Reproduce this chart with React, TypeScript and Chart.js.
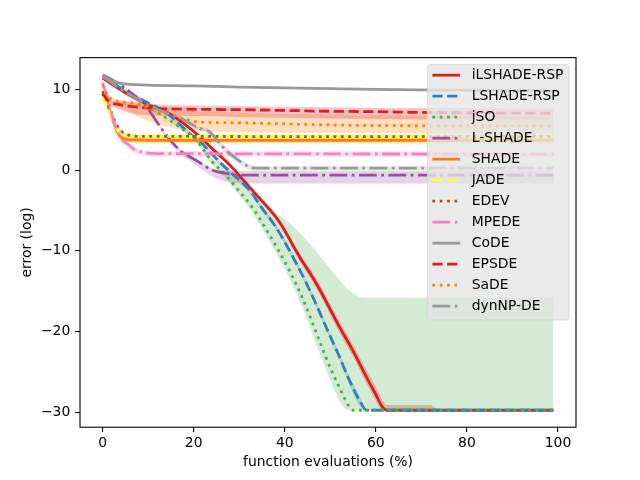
import { useEffect, useRef } from "react";
import { Chart, registerables } from "chart.js";

Chart.register(...registerables);

// ---------- data ----------
const LABELS = ["iLSHADE-RSP", "LSHADE-RSP", "jSO", "L-SHADE", "SHADE", "JADE", "EDEV", "MPEDE", "CoDE", "EPSDE", "SaDE", "dynNP-DE"];
const COLORS = ["#e41a1c", "#377eb8", "#4daf4a", "#984ea3", "#ff7f00", "#ffff33", "#a65628", "#f781bf", "#999999", "#e41a1c", "#ff7f00", "#999999"];
const STYLES = ["solid", "dashed", "dotted", "dashdot", "solid", "dashed", "dotted", "dashdot", "solid", "dashed", "dotted", "dashdot"];

const X_TICKS = [0, 20, 40, 60, 80, 100];
const Y_TICKS = [-30, -20, -10, 0, 10];

// iLSHADE-RSP
const X1 = [0, 5, 10, 15, 20, 24, 28, 31, 34.5, 38.8, 43.2, 47, 52, 55, 58, 60, 61.5, 62.5, 72, 74, 99];
const Y1 = [11.4, 9.6, 8.1, 6.9, 4.8, 2.7, 0.6, -1.3, -3.5, -6.4, -10.7, -14.1, -19.4, -22.4, -25.7, -27.8, -29.4, -29.75, -29.75, -29.75, -29.75];
const HI1 = [11.5, 9.8, 8.3, 7.1, 5.0, 2.9, 0.8, -1.0, -3.2, -6.0, -10.2, -13.5, -18.7, -21.6, -24.8, -26.8, -28.5, -29.1, -29.1, -29.75, -29.75];
const LO1 = [11.3, 9.4, 7.9, 6.7, 4.6, 2.5, 0.4, -1.6, -3.8, -6.8, -11.2, -14.7, -20.1, -23.1, -26.5, -28.6, -29.75, -29.75, -29.75, -29.75, -29.75];

// LSHADE-RSP
const X2 = [0, 5, 9.4, 14, 19, 22, 25.7, 28, 32.3, 35, 38, 40, 45, 50, 52, 54, 56.4, 58, 99];
const Y2 = [11.6, 9.8, 8.5, 7.1, 4.6, 3.2, 1.0, -0.2, -2.5, -4.7, -7.0, -8.9, -14.3, -20.6, -23.1, -25.8, -28.5, -29.75, -29.75];
const HI2 = [11.7, 10.0, 8.7, 7.3, 4.9, 3.5, 1.3, 0.1, -2.2, -4.4, -6.7, -8.6, -14.0, -20.2, -22.7, -25.3, -28.0, -29.75, -29.75];
const LO2 = [11.5, 9.6, 8.3, 6.9, 4.3, 2.9, 0.7, -0.5, -2.8, -5.0, -7.3, -9.2, -14.6, -21.0, -23.5, -26.3, -29.2, -29.75, -29.75];

// jSO
const X3 = [0, 2, 6.6, 12.5, 17, 20.6, 24, 27, 30, 33, 36, 41, 44, 47.6, 50, 52, 54, 55, 56.4, 58, 99];
const Y3 = [11.6, 11.1, 9.1, 7.0, 5.3, 3.7, 1.1, -0.6, -2.6, -4.7, -7.4, -12.4, -16.0, -21.1, -24.5, -26.9, -29.2, -29.75, -29.75, -29.75, -29.75];
const HI3 = [11.7, 11.2, 9.2, 7.1, 5.5, 4.0, 1.6, 0.2, -1.2, -2.8, -4.4, -6.5, -8.2, -10.5, -12.2, -13.6, -14.8, -15.2, -15.7, -15.8, -15.8];
const LO3 = [11.5, 11.0, 9.0, 6.9, 5.1, 3.4, 0.7, -1.0, -3.1, -5.3, -8.2, -13.4, -17.2, -22.6, -26.0, -28.6, -29.75, -29.75, -29.75, -29.75, -29.75];

// L-SHADE
const X4 = [0, 3, 4.4, 9.6, 13.2, 16.9, 20.6, 24.2, 27.1, 30, 35, 99];
const Y4 = [11.8, 10.9, 10.4, 7.85, 4.95, 2.5, 1.2, 0.0, -0.4, -0.62, -0.62, -0.62];
const HI4 = [11.9, 11.0, 10.5, 8.0, 5.1, 2.7, 1.4, 0.2, 0.0, -0.1, -0.1, -0.1];
const LO4 = [11.7, 10.8, 10.3, 7.7, 4.8, 2.2, 0.6, -0.8, -1.4, -1.6, -1.65, -1.65];

// SHADE
const X5 = [0, 1, 2, 3, 4, 5, 7, 10, 99];
const Y5 = [9.5, 8.3, 6.6, 5.0, 4.1, 3.85, 3.75, 3.7, 3.7];
const HI5 = [9.7, 8.5, 6.9, 5.3, 4.4, 4.15, 4.05, 4.0, 4.0];
const LO5 = [9.3, 8.0, 6.3, 4.7, 3.7, 3.45, 3.35, 3.3, 3.3];

// JADE
const X6 = [0, 1, 2, 3, 4.4, 6, 10, 99];
const Y6 = [9.1, 7.9, 6.5, 5.2, 4.4, 4.25, 4.2, 4.15];
const HI6 = [9.3, 8.2, 6.8, 5.5, 4.7, 4.55, 4.5, 4.45];
const LO6 = [8.9, 7.6, 6.2, 4.9, 4.1, 3.95, 3.9, 3.85];

// EDEV
const X7 = [0, 1, 2.1, 2.9, 4.3, 5.7, 8, 99];
const Y7 = [9.8, 8.5, 7.0, 5.8, 4.75, 4.35, 4.2, 4.15];
const HI7 = [9.9, 8.7, 7.2, 6.0, 4.95, 4.55, 4.4, 4.35];
const LO7 = [9.7, 8.3, 6.8, 5.6, 4.55, 4.15, 4.0, 3.95];

// MPEDE
const X8 = [0, 1.4, 2.5, 3.9, 5.8, 7.2, 9.4, 12, 99];
const Y8 = [10.8, 8.3, 6.0, 4.1, 3.1, 2.5, 2.15, 2.05, 2.0];
const HI8 = [10.9, 8.5, 6.3, 4.4, 3.4, 2.8, 2.45, 2.35, 2.3];
const LO8 = [10.6, 8.0, 5.7, 3.8, 2.7, 2.15, 1.8, 1.7, 1.65];

// CoDE
const X9 = [0, 2, 4, 10, 20, 30, 40, 50, 60, 74, 99];
const Y9 = [11.7, 11.1, 10.75, 10.55, 10.45, 10.3, 10.2, 10.1, 10.0, 9.92, 9.85];
const HI9 = [11.8, 11.2, 10.85, 10.65, 10.55, 10.4, 10.3, 10.2, 10.1, 10.02, 9.95];
const LO9 = [11.6, 11.0, 10.65, 10.45, 10.35, 10.2, 10.1, 10.0, 9.9, 9.82, 9.75];

// EPSDE
const X10 = [0, 1.5, 4, 10, 20, 30, 40, 50, 60, 70, 99];
const Y10 = [9.5, 8.5, 8.1, 7.7, 7.55, 7.5, 7.4, 7.3, 7.25, 7.15, 7.05];
const HI10 = [9.7, 8.8, 8.5, 8.2, 8.0, 7.95, 7.85, 7.8, 7.75, 7.7, 7.6];
const LO10 = [9.3, 8.2, 7.4, 6.8, 6.7, 6.6, 6.5, 6.4, 6.35, 6.3, 6.2];

// SaDE
const X11 = [0, 1.3, 2.2, 3.5, 6.6, 9.6, 12, 15.4, 20.6, 25, 31.6, 52, 99];
const Y11 = [10.6, 9.1, 8.7, 8.5, 8.3, 7.8, 7.3, 6.8, 6.0, 5.9, 5.85, 5.58, 5.45];
const HI11 = [10.8, 9.4, 9.0, 8.8, 8.6, 8.3, 8.0, 7.7, 7.3, 7.2, 7.1, 6.9, 6.6];
const LO11 = [10.4, 8.8, 8.3, 7.9, 7.0, 6.2, 5.7, 5.2, 4.9, 4.8, 4.7, 4.6, 4.5];

// dynNP-DE
const X12 = [0, 4.4, 11.8, 16.9, 21.3, 23.5, 26.4, 29.3, 32.3, 34, 36, 99];
const Y12 = [11.6, 9.9, 7.6, 6.5, 5.2, 4.75, 2.9, 1.45, 0.41, 0.25, 0.25, 0.25];
const HI12 = [11.7, 10.1, 7.8, 6.7, 5.4, 5.0, 3.2, 1.75, 0.7, 0.5, 0.5, 0.5];
const LO12 = [11.5, 9.7, 7.4, 6.3, 4.9, 4.4, 2.5, 1.05, 0.05, -0.05, -0.05, -0.05];

const XS = [X1, X2, X3, X4, X5, X6, X7, X8, X9, X10, X11, X12];
const YS = [Y1, Y2, Y3, Y4, Y5, Y6, Y7, Y8, Y9, Y10, Y11, Y12];
const HIS = [HI1, HI2, HI3, HI4, HI5, HI6, HI7, HI8, HI9, HI10, HI11, HI12];
const LOS = [LO1, LO2, LO3, LO4, LO5, LO6, LO7, LO8, LO9, LO10, LO11, LO12];

// ---------- styling ----------
const LW = 2.78;
const DASHES: Record<string, number[]> = {
  solid: [],
  dashed: [3.7 * LW, 1.6 * LW],
  dotted: [1 * LW, 1.65 * LW],
  dashdot: [6.4 * LW, 1.6 * LW, 1 * LW, 1.6 * LW],
};
const FONT = { family: "'DejaVu Sans', sans-serif", size: 13.9, lineHeight: 1.2 };

function rgba(hex: string, a: number) {
  const n = parseInt(hex.slice(1), 16);
  return `rgba(${(n >> 16) & 255},${(n >> 8) & 255},${n & 255},${a})`;
}
const fmt = (v: number) => String(v).replace("-", "\u2212");

const framePlugin = {
  id: "mplFrame",
  afterDatasetsDraw(chart: any) {
    const { ctx, chartArea: a } = chart;
    ctx.save();
    ctx.strokeStyle = "#000";
    ctx.lineWidth = 1.1;
    ctx.strokeRect(a.left, a.top, a.right - a.left, a.bottom - a.top);
    ctx.restore();
  },
};

const legendPlugin = {
  id: "mplLegend",
  afterDraw(chart: any) {
    const ctx = chart.ctx;
    const a = chart.chartArea;
    const w = 141.7, h = 255.4;
    const right = a.right - 6.95;
    const top = a.top + 6.95;
    const left = right - w;
    const r = 2.8;
    ctx.save();
    ctx.beginPath();
    ctx.moveTo(left + r, top);
    ctx.lineTo(left + w - r, top);
    ctx.quadraticCurveTo(left + w, top, left + w, top + r);
    ctx.lineTo(left + w, top + h - r);
    ctx.quadraticCurveTo(left + w, top + h, left + w - r, top + h);
    ctx.lineTo(left + r, top + h);
    ctx.quadraticCurveTo(left, top + h, left, top + h - r);
    ctx.lineTo(left, top + r);
    ctx.quadraticCurveTo(left, top, left + r, top);
    ctx.closePath();
    ctx.fillStyle = "rgba(229,229,229,0.8)";
    ctx.fill();
    ctx.strokeStyle = "rgba(214,214,214,0.8)";
    ctx.lineWidth = 1;
    ctx.stroke();

    ctx.font = `${FONT.size}px ${FONT.family}`;
    ctx.textBaseline = "middle";
    ctx.textAlign = "left";
    LABELS.forEach((lab, i) => {
      const y = top + 10.6 + 21 * i;
      ctx.beginPath();
      ctx.setLineDash(DASHES[STYLES[i]]);
      ctx.lineDashOffset = 0;
      ctx.strokeStyle = COLORS[i];
      ctx.lineWidth = LW;
      ctx.lineCap = "butt";
      ctx.moveTo(left + 5, y);
      ctx.lineTo(left + 5 + 27.8, y);
      ctx.stroke();
      ctx.setLineDash([]);
      ctx.fillStyle = "#000";
      ctx.fillText(lab, left + 44.4, y + 0.5);
    });
    ctx.restore();
  },
};

export default function App() {
  const ref = useRef<HTMLCanvasElement | null>(null);

  useEffect(() => {
    if (!ref.current) return;
    const n = LABELS.length;
    const datasets: any[] = [];
    for (let i = 0; i < n; i++) {
      const xs = XS[i];
      const upIndex = datasets.length;
      datasets.push({
        label: LABELS[i] + " upper",
        data: xs.map((x, k) => ({ x, y: HIS[i][k] })),
        borderColor: "rgba(0,0,0,0)",
        borderWidth: 0,
        pointRadius: 0,
        fill: false,
        cubicInterpolationMode: "monotone",
        order: 100,
      });
      datasets.push({
        label: LABELS[i] + " lower",
        data: xs.map((x, k) => ({ x, y: LOS[i][k] })),
        borderColor: "rgba(0,0,0,0)",
        borderWidth: 0,
        pointRadius: 0,
        fill: upIndex,
        backgroundColor: rgba(COLORS[i], 0.25),
        cubicInterpolationMode: "monotone",
        order: 100,
      });
    }
    for (let i = 0; i < n; i++) {
      datasets.push({
        label: LABELS[i],
        data: XS[i].map((x, k) => ({ x, y: YS[i][k] })),
        borderColor: COLORS[i],
        borderWidth: LW,
        borderDash: DASHES[STYLES[i]],
        borderCapStyle: "butt",
        borderJoinStyle: "round",
        pointRadius: 0,
        fill: false,
        cubicInterpolationMode: "monotone",
        order: 50 - i,
      });
    }

    const gridStyle = { drawOnChartArea: false, drawTicks: true, tickLength: 4.86, color: "#000", lineWidth: 1.1 };

    const chart = new Chart(ref.current, {
      type: "line",
      data: { datasets },
      plugins: [framePlugin, legendPlugin],
      options: {
        animation: false,
        responsive: false,
        maintainAspectRatio: false,
        devicePixelRatio: 1,
        events: [],
        layout: { padding: { top: 57.6, right: 64, left: 0, bottom: 0 } },
        plugins: {
          legend: { display: false },
          tooltip: { enabled: false },
          filler: { propagate: false, drawTime: "beforeDatasetsDraw" },
        },
        scales: {
          x: {
            type: "linear",
            min: -4.95,
            max: 103.95,
            afterBuildTicks: (s: any) => {
              s.ticks = X_TICKS.map((v) => ({ value: v }));
            },
            afterFit: (s: any) => {
              s.height = 52.8;
            },
            ticks: { font: FONT, color: "#000", padding: 2.9, maxRotation: 0, autoSkip: false, callback: (v: any) => fmt(v) },
            grid: gridStyle,
            border: { display: false },
            title: { display: true, text: "function evaluations (%)", font: FONT, color: "#000", padding: { top: 0, bottom: 9 } },
          },
          y: {
            type: "linear",
            min: -31.85,
            max: 13.95,
            afterBuildTicks: (s: any) => {
              s.ticks = Y_TICKS.map((v) => ({ value: v }));
            },
            afterFit: (s: any) => {
              s.width = 80;
            },
            ticks: { font: FONT, color: "#000", padding: 4.86, maxRotation: 0, autoSkip: false, callback: (v: any) => fmt(v) },
            grid: gridStyle,
            border: { display: false },
            title: { display: true, text: "error (log)", font: FONT, color: "#000", padding: { top: 18.7, bottom: 0 } },
          },
        },
      } as any,
    });
    return () => chart.destroy();
  }, []);

  return (
    <div style={{ position: "fixed", left: 0, top: 0, width: 640, height: 480, background: "#fff" }}>
      <canvas ref={ref} width={640} height={480} style={{ display: "block", width: 640, height: 480 }} />
    </div>
  );
}
